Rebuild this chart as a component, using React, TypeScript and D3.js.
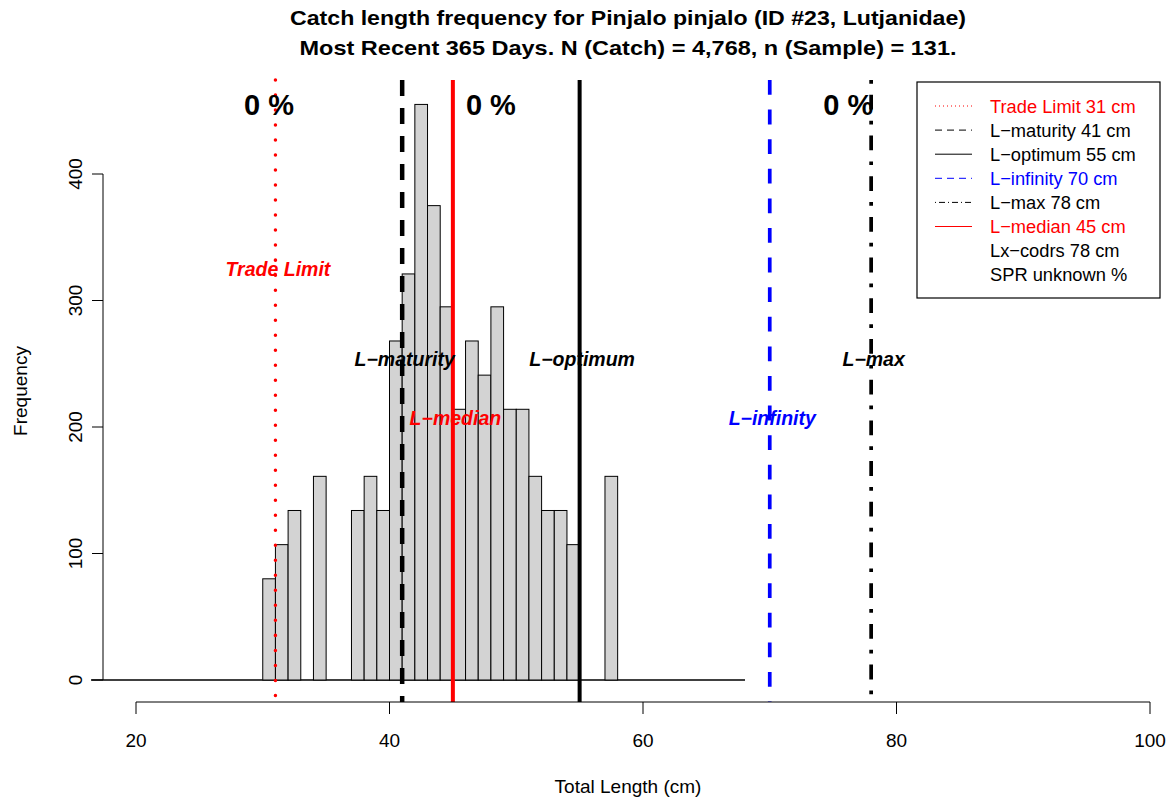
import React from "react";
import * as d3 from "d3";

// ---------- data ----------
const titleLines = [
  "Catch length frequency for Pinjalo pinjalo (ID #23, Lutjanidae)",
  "Most Recent 365 Days. N (Catch) = 4,768, n (Sample) = 131.",
];
const binStart = 30; // cm, left edge of first bin, 1 cm bins
const binFreq = [80, 107, 134, 0, 161, 0, 0, 134, 161, 134, 268, 321, 455, 375, 295, 214, 268, 241, 295, 214, 214, 161, 134, 134, 107, 0, 0, 161];
const histRange = [16.45, 68.05];
const xTicks = [20, 40, 60, 80, 100];
const yTicks = [0, 100, 200, 300, 400];
const refNames = ["Trade Limit", "L\u2212maturity", "L\u2212optimum", "L\u2212infinity", "L\u2212max", "L\u2212median"];
const refValues = [31, 41, 55, 70, 78, 45];
const refLabelLevels = [325, 254, 254, 207, 254, 207];
const pctLabels = ["0 %", "0 %", "0 %"];
const pctPositions = [30.5, 48, 76.2];
const legendLabels = [
  "Trade Limit 31 cm",
  "L\u2212maturity 41 cm",
  "L\u2212optimum 55 cm",
  "L\u2212infinity 70 cm",
  "L\u2212max 78 cm",
  "L\u2212median 45 cm",
  "Lx\u2212codrs 78 cm",
  "SPR unknown %",
];

// ---------- styles ----------
const refStyles = [
  { color: "#ff0000", width: 3.5, dash: "0.01 15", cap: "round" },
  { color: "#000000", width: 4.5, dash: "16 12", cap: "butt" },
  { color: "#000000", width: 4, dash: null, cap: "butt" },
  { color: "#0000ff", width: 3.7, dash: "14.8 14.8", cap: "butt" },
  { color: "#000000", width: 3.7, dash: "3.7 11.1 14.8 11.1", cap: "butt" },
  { color: "#ff0000", width: 4, dash: null, cap: "butt" },
];
const legendStyles = [
  { color: "#ff0000", dash: "1 3" },
  { color: "#000000", dash: "7 5" },
  { color: "#000000", dash: null },
  { color: "#0000ff", dash: "7 5" },
  { color: "#000000", dash: "1 3 6 3" },
  { color: "#ff0000", dash: null },
  { color: "#000000", dash: "none" },
  { color: "#000000", dash: "none" },
];

const W = 1176;
const H = 803;
const FONT = "'Liberation Sans', Arial, Helvetica, sans-serif";
const plot = { left: 103, right: 1153, top: 80, bottom: 702 };

export default function App() {
  const x = d3.scaleLinear().domain([20, 100]).range([136, 1150]);
  const y = d3.scaleLinear().domain([0, 400]).range([680, 174]);
  const bins = binFreq.map((f, i) => ({ x0: binStart + i, x1: binStart + i + 1, f }));
  const legX = 917, legY = 82, legW = 243, legH = 216, rowH = 24.1;

  return (
    <svg
      width={W}
      height={H}
      viewBox={`0 0 ${W} ${H}`}
      style={{ position: "absolute", left: 0, top: 0, background: "#fff" }}
      fontFamily={FONT}
    >
      <rect x={0} y={0} width={W} height={H} fill="#fff" />
      {/* title */}
      <text x={628} y={25} textAnchor="middle" fontSize={21} fontWeight="bold" textLength={676} lengthAdjust="spacingAndGlyphs">
        {titleLines[0]}
      </text>
      <text x={628} y={55} textAnchor="middle" fontSize={21} fontWeight="bold" textLength={657} lengthAdjust="spacingAndGlyphs">
        {titleLines[1]}
      </text>

      {/* histogram baseline */}
      <line x1={x(histRange[0])} x2={x(histRange[1])} y1={y(0)} y2={y(0)} stroke="#000" strokeWidth={1.3} />
      {/* bars */}
      {bins.filter((b) => b.f > 0).map((b, i) => (
        <rect
          key={i}
          x={x(b.x0)}
          y={y(b.f)}
          width={x(b.x1) - x(b.x0)}
          height={y(0) - y(b.f)}
          fill="#d3d3d3"
          stroke="#000"
          strokeWidth={1}
        />
      ))}

      {/* reference lines */}
      {refValues.map((v, i) => {
        const s = refStyles[i];
        return (
          <line
            key={i}
            x1={x(v)}
            x2={x(v)}
            y1={plot.top}
            y2={plot.bottom}
            stroke={s.color}
            strokeWidth={s.width}
            strokeDasharray={s.dash || undefined}
            strokeLinecap={s.cap as any}
          />
        );
      })}

      {/* reference labels */}
      {refValues.map((v, i) => (
        <text
          key={i}
          x={x(v) + 2.5}
          y={y(refLabelLevels[i]) + 7}
          textAnchor="middle"
          fontSize={19.5}
          fontWeight="bold"
          fontStyle="italic"
          fill={refStyles[i].color}
        >
          {refNames[i]}
        </text>
      ))}

      {/* percent labels */}
      {pctPositions.map((p, i) => (
        <text key={i} x={x(p)} y={115} textAnchor="middle" fontSize={29} fontWeight="bold">
          {pctLabels[i]}
        </text>
      ))}

      {/* y axis */}
      <line x1={plot.left} x2={plot.left} y1={y(0)} y2={y(400)} stroke="#000" strokeWidth={1} />
      {yTicks.map((t) => (
        <g key={t}>
          <line x1={plot.left - 11} x2={plot.left} y1={y(t)} y2={y(t)} stroke="#000" strokeWidth={1} />
          <text
            transform={`translate(${plot.left - 21},${y(t)}) rotate(-90)`}
            textAnchor="middle"
            fontSize={19}
          >
            {t}
          </text>
        </g>
      ))}
      <text transform={`translate(27,${(plot.top + plot.bottom) / 2}) rotate(-90)`} textAnchor="middle" fontSize={19}>
        Frequency
      </text>

      {/* x axis */}
      <line x1={x(20)} x2={x(100)} y1={plot.bottom} y2={plot.bottom} stroke="#000" strokeWidth={1} />
      {xTicks.map((t) => (
        <g key={t}>
          <line x1={x(t)} x2={x(t)} y1={plot.bottom} y2={plot.bottom + 12} stroke="#000" strokeWidth={1} />
          <text x={x(t)} y={747} textAnchor="middle" fontSize={19}>
            {t}
          </text>
        </g>
      ))}
      <text x={(plot.left + plot.right) / 2} y={793} textAnchor="middle" fontSize={19}>
        Total Length (cm)
      </text>

      {/* legend */}
      <rect x={legX} y={legY} width={legW} height={legH} fill="#fff" stroke="#000" strokeWidth={1.2} />
      {legendLabels.map((lab, i) => {
        const s = legendStyles[i];
        const cy = legY + 24 + i * rowH;
        return (
          <g key={i}>
            {s.dash !== "none" && (
              <line
                x1={935}
                x2={972}
                y1={cy}
                y2={cy}
                stroke={s.color}
                strokeWidth={1}
                strokeDasharray={s.dash || undefined}
              />
            )}
            <text x={990} y={cy + 6.5} fontSize={18.3} fill={s.color}>
              {lab}
            </text>
          </g>
        );
      })}
    </svg>
  );
}
